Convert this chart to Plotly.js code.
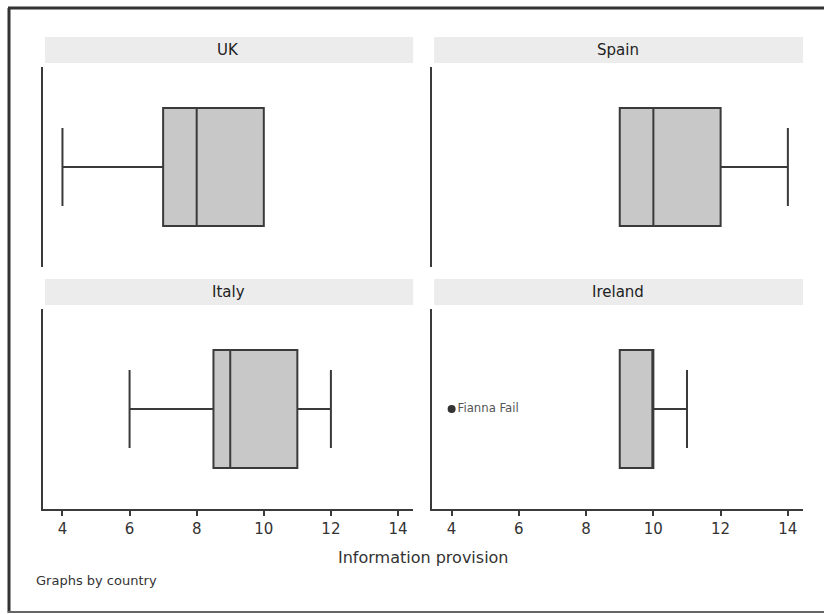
<!DOCTYPE html>
<html><head><meta charset="utf-8">
<script src="https://cdn.plot.ly/plotly-3.0.1.min.js"></script>
<style>body{margin:0;background:#fff}#chart{width:824px;height:614px}</style>
</head><body><div id="chart"></div>
<script>
// Data (box summaries)
const countries = ["UK", "Spain", "Italy", "Ireland"];
const q1 = [7, 9, 8.5, 9];
const medians = [8, 10, 9, 10];
const q3 = [10, 12, 11, 10];
const lowerFence = [4, 9, 6, 9];
const upperFence = [10, 14, 12, 11];
const outlierCountry = ["Ireland"];
const outlierValue = [4];
const outlierLabel = ["Fianna Fail"];
const tickVals = [4, 6, 8, 10, 12, 14];
const xTitle = "Information provision";
const note = "Graphs by country";

const axisIds = [["x", "y"], ["x2", "y2"], ["x3", "y3"], ["x4", "y4"]];
const lineCol = "#3a3a3a";
const traces = countries.map((c, i) => ({
  type: "box", orientation: "h",
  name: c, y0: 0,
  q1: [q1[i]], median: [medians[i]], q3: [q3[i]],
  lowerfence: [lowerFence[i]], upperfence: [upperFence[i]],
  width: 1.18, whiskerwidth: 0.66,
  fillcolor: "#c8c8c8",
  line: {color: lineCol, width: 2},
  boxpoints: false, hoverinfo: "skip",
  xaxis: axisIds[i][0], yaxis: axisIds[i][1], showlegend: false
}));
outlierCountry.forEach((c, k) => {
  const i = countries.indexOf(c);
  traces.push({
    type: "scatter", mode: "markers+text",
    x: [outlierValue[k]], y: [0], text: [outlierLabel[k]],
    textposition: "middle right",
    textfont: {family: "Liberation Sans Narrow, DejaVu Sans Condensed, sans-serif", size: 13, color: "#555"},
    marker: {color: "#333", size: 8},
    xaxis: axisIds[i][0], yaxis: axisIds[i][1], showlegend: false, hoverinfo: "skip"
  });
});

const xr = [3.42, 14.45];
const font = {family: "DejaVu Sans, sans-serif", color: "#333"};
function xa(domain, bottom, anchor) {
  return {domain: domain, range: xr, anchor: anchor, showgrid: false, zeroline: false,
    showline: bottom, linecolor: lineCol, linewidth: 2,
    ticks: bottom ? "outside" : "", ticklen: 5, tickwidth: 2, tickcolor: lineCol,
    tickvals: tickVals, showticklabels: bottom,
    tickfont: {family: "DejaVu Sans, sans-serif", size: 15, color: "#333"}};
}
function ya(domain, anchor) {
  return {domain: domain, range: [-1, 1], anchor: anchor, showgrid: false, zeroline: false,
    showline: true, linecolor: lineCol, linewidth: 2, showticklabels: false, ticks: ""};
}
const L = [0, 0.487], R = [0.512, 1], T = [0.5475, 1], B = [0, 0.4525];
const pos = [[L, T], [R, T], [L, B], [R, B]];
const shapes = [], annotations = [];
pos.forEach((p, i) => {
  const [xd, yd] = p;
  const stripBottom = yd[1] + 4/442, stripTop = yd[1] + 30/442;
  shapes.push({type: "rect", xref: "paper", yref: "paper", x0: xd[0] + 2/760, x1: xd[1],
    y0: stripBottom, y1: stripTop, fillcolor: "#ececec", line: {width: 0}, layer: "below"});
  annotations.push({xref: "paper", yref: "paper", x: (xd[0] + xd[1]) / 2, y: (stripBottom + stripTop) / 2,
    text: countries[i], showarrow: false, xanchor: "center", yanchor: "middle",
    font: {family: "DejaVu Sans, sans-serif", size: 15, color: "#222"}});
});
annotations.push({xref: "paper", yref: "paper", x: 0.5, y: -48/442, text: xTitle, showarrow: false,
  xanchor: "center", yanchor: "middle", font: {family: "DejaVu Sans, sans-serif", size: 16, color: "#333"}});
annotations.push({xref: "paper", yref: "paper", x: -9/760, y: -71/442, text: note, showarrow: false,
  xanchor: "left", yanchor: "middle", font: {family: "DejaVu Sans, sans-serif", size: 13, color: "#333"}});
// outer frame
shapes.push({type: "line", xref: "paper", yref: "paper", x0: -35/760, x1: 781/760, y0: 501/442, y1: 501/442, line: {color: "#333", width: 3}});
shapes.push({type: "line", xref: "paper", yref: "paper", x0: -34/760, x1: -34/760, y0: -104/442, y1: 501/442, line: {color: "#333", width: 3}});
shapes.push({type: "line", xref: "paper", yref: "paper", x0: -35/760, x1: 781/760, y0: -103/442, y1: -103/442, line: {color: "#666", width: 2}});

const layout = {
  width: 824, height: 614, margin: {l: 43, r: 21, t: 67, b: 105},
  paper_bgcolor: "#ffffff", plot_bgcolor: "rgba(0,0,0,0)", font: font,
  xaxis: xa(L, false, "y"), yaxis: ya(T, "x"),
  xaxis2: xa(R, false, "y2"), yaxis2: ya(T, "x2"),
  xaxis3: xa(L, true, "y3"), yaxis3: ya(B, "x3"),
  xaxis4: xa(R, true, "y4"), yaxis4: ya(B, "x4"),
  shapes: shapes, annotations: annotations, showlegend: false
};
Plotly.newPlot("chart", traces, layout, {displayModeBar: false, staticPlot: true});
</script></body></html>
